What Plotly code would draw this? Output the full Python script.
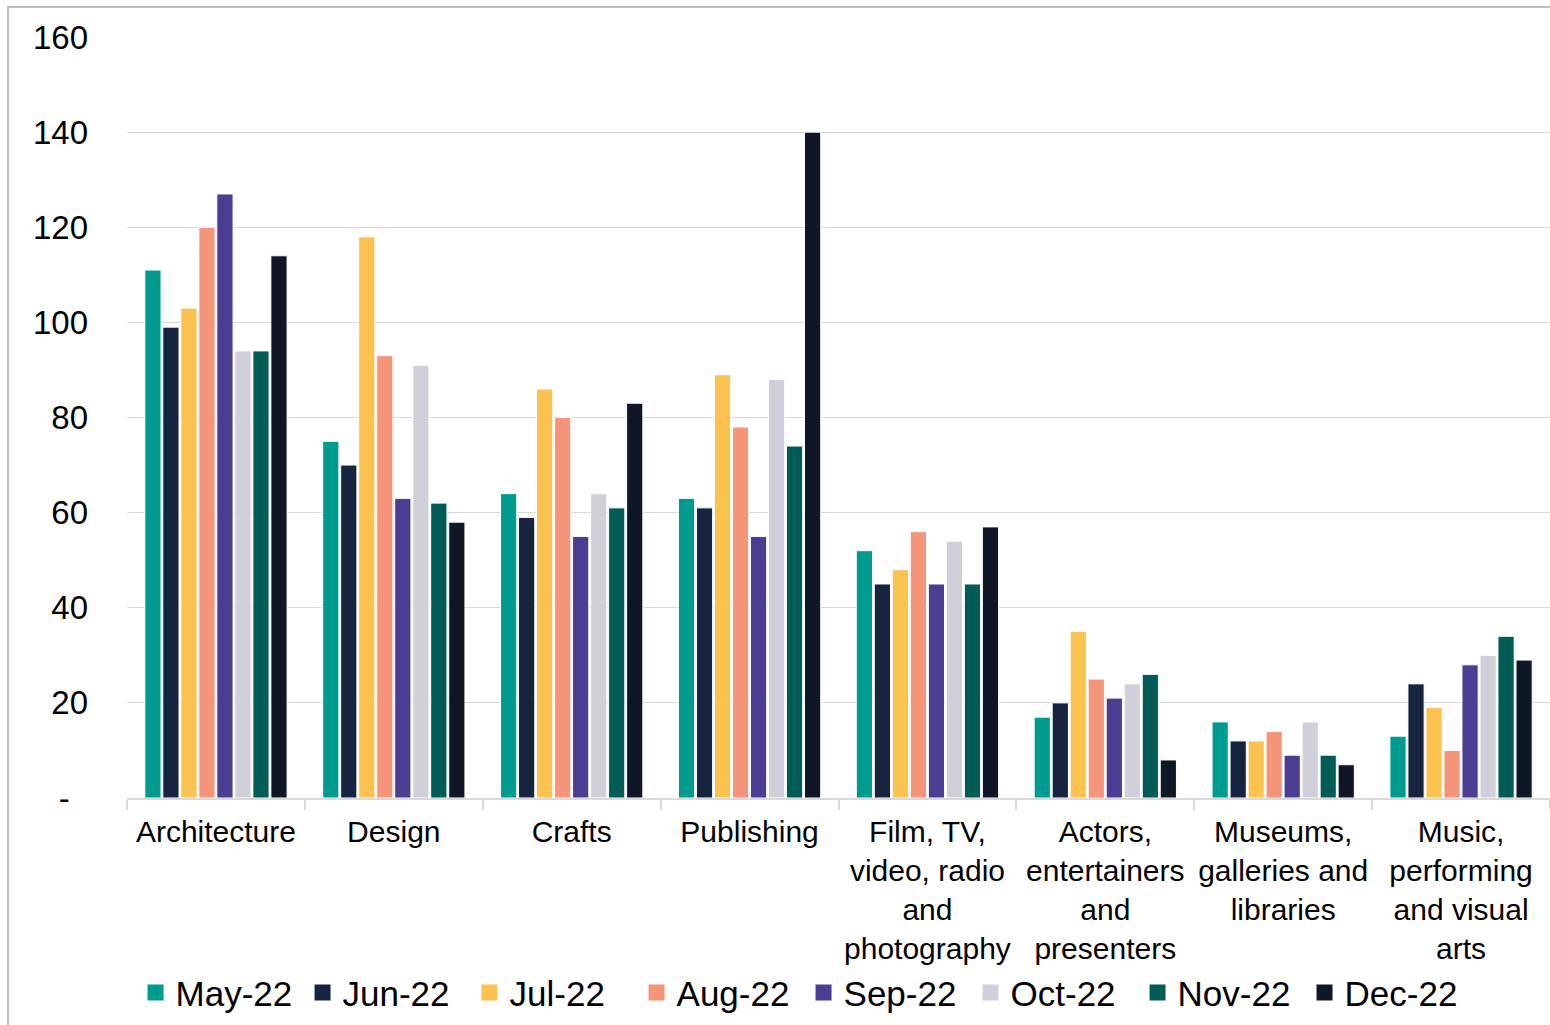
import plotly.graph_objects as go

categories = [
    "Architecture", "Design", "Crafts", "Publishing",
    "Film, TV,<br>video, radio<br>and<br>photography",
    "Actors,<br>entertainers<br>and<br>presenters",
    "Museums,<br>galleries and<br>libraries",
    "Music,<br>performing<br>and visual<br>arts",
]

months = ["May-22", "Jun-22", "Jul-22", "Aug-22", "Sep-22", "Oct-22", "Nov-22", "Dec-22"]

may_22 = [111, 75, 64, 63, 52, 17, 16, 13]
jun_22 = [99, 70, 59, 61, 45, 20, 12, 24]
jul_22 = [103, 118, 86, 89, 48, 35, 12, 19]
aug_22 = [120, 93, 80, 78, 56, 25, 14, 10]
sep_22 = [127, 63, 55, 55, 45, 21, 9, 28]
oct_22 = [94, 91, 64, 88, 54, 24, 16, 30]
nov_22 = [94, 62, 61, 74, 45, 26, 9, 34]
dec_22 = [114, 58, 83, 140, 57, 8, 7, 29]

series = [may_22, jun_22, jul_22, aug_22, sep_22, oct_22, nov_22, dec_22]
colors = ["#009B8F", "#17243F", "#FCC250", "#F4957A", "#4A3D92", "#D0D0DA", "#005C55", "#0F1726"]

y_tickvals = [0, 20, 40, 60, 80, 100, 120, 140, 160]
y_ticktext = ["-\u2007", "20", "40", "60", "80", "100", "120", "140", "160"]

font_family = "Liberation Sans, Arial, sans-serif"

fig = go.Figure()
for name, vals, col in zip(months, series, colors):
    fig.add_trace(go.Bar(
        x=categories, y=vals, name=name, legendgroup=name, showlegend=False,
        marker=dict(color=col, line=dict(color="white", width=1)),
    ))
    # legend entry with a larger square swatch
    fig.add_trace(go.Scatter(
        x=[None], y=[None], mode="markers", name=name, legendgroup=name,
        marker=dict(symbol="square", size=16, color=col),
    ))

fig.update_layout(
    width=1550, height=1025,
    margin=dict(l=127, r=0, t=37, b=227, autoexpand=False),
    paper_bgcolor="white", plot_bgcolor="white",
    barmode="group", bargap=0.19, bargroupgap=0.1,
    font=dict(family=font_family, color="#000000"),
    legend=dict(
        orientation="h", x=0.006, xanchor="left", y=-0.256, yanchor="middle",
        font=dict(size=35, family=font_family, color="#000000"),
        entrywidth=122, entrywidthmode="pixels",
        itemwidth=30, bgcolor="rgba(0,0,0,0)",
    ),
    xaxis=dict(
        type="category", automargin=False,
        showline=True, linecolor="#D9D9D9", linewidth=2,
        ticks="outside", tickson="boundaries", ticklen=10, tickcolor="#D9D9D9", tickwidth=2,
        tickfont=dict(size=30, family=font_family, color="#000000"),
        ticklabelstandoff=6,
        showgrid=False, tickangle=0,
    ),
    yaxis=dict(
        range=[0, 160], automargin=False,
        tickvals=y_tickvals, ticktext=y_ticktext,
        showgrid=True, gridcolor="#D9D9D9", gridwidth=1,
        zeroline=False, showline=False,
        ticks="", ticklabelstandoff=38,
        tickfont=dict(size=33, family=font_family, color="#000000"),
    ),
    shapes=[dict(
        type="rect", xref="paper", yref="paper",
        x0=-0.0836, x1=1.05, y0=-0.35, y1=1.0394,
        line=dict(color="#BFBFBF", width=2), fillcolor="rgba(0,0,0,0)", layer="below",
    )],
)

fig.write_html("out.html")
